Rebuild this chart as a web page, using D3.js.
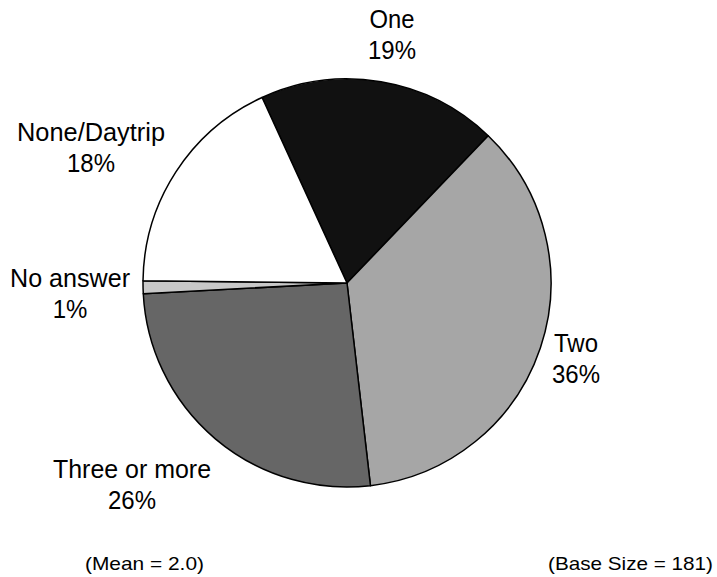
<!DOCTYPE html>
<html>
<head>
<meta charset="utf-8">
<script src="https://cdn.jsdelivr.net/npm/d3@7"></script>
<style>
  html, body { margin: 0; padding: 0; background: #fff; }
  svg { display: block; font-family: "Liberation Sans", Arial, sans-serif; }
</style>
</head>
<body>
<svg id="chart" width="717" height="577"></svg>
<script>
// Nights stayed — share of respondents
const categories = ["One", "Two", "Three or more", "No answer", "None/Daytrip"];
const percents = [19, 36, 26, 1, 18];
const fills = ["#111111", "#a6a6a6", "#666666", "#c8c8c8", "#ffffff"];
const footLeft = "(Mean = 2.0)";
const footRight = "(Base Size = 181)";

// label layout: centre x, baseline of first line, rendered width of first line
const labelPos = [[392, 28, 45], [576, 352, 44], [132, 478, 158], [70, 287, 120], [91, 141, 148]];
const lineGap = 31.5;

const svg = d3.select("#chart");
const cx = 347, cy = 283, r = 204;

const pie = d3.pie()
  .sort(null)
  .value(d => d)
  .startAngle(-24.6 * Math.PI / 180)
  .endAngle((360 - 24.6) * Math.PI / 180);

const arc = d3.arc().innerRadius(0).outerRadius(r);

const g = svg.append("g").attr("transform", `translate(${cx},${cy})`);
g.selectAll("path")
  .data(pie(percents))
  .join("path")
  .attr("d", arc)
  .attr("fill", (d, i) => fills[i])
  .attr("stroke", "#000")
  .attr("stroke-width", 1.5)
  .attr("stroke-linejoin", "round");

const labels = svg.append("g")
  .attr("font-size", 24)
  .attr("fill", "#000")
  .attr("text-anchor", "middle");

categories.forEach((c, i) => {
  const [x, y, w] = labelPos[i];
  const lg = labels.append("g").attr("transform", `translate(${x},${y}) scale(1,1.1)`);
  lg.append("text")
    .attr("x", 0).attr("y", 0)
    .attr("textLength", w)
    .attr("lengthAdjust", "spacingAndGlyphs")
    .text(c);
  lg.append("text")
    .attr("x", 0).attr("y", lineGap / 1.1)
    .text(percents[i] + "%");
});

svg.append("text")
  .attr("x", 85).attr("y", 570)
  .attr("font-size", 19)
  .attr("textLength", 119)
  .attr("lengthAdjust", "spacingAndGlyphs")
  .text(footLeft);

svg.append("text")
  .attr("x", 548).attr("y", 570)
  .attr("font-size", 19)
  .attr("textLength", 165)
  .attr("lengthAdjust", "spacingAndGlyphs")
  .text(footRight);
</script>
</body>
</html>
